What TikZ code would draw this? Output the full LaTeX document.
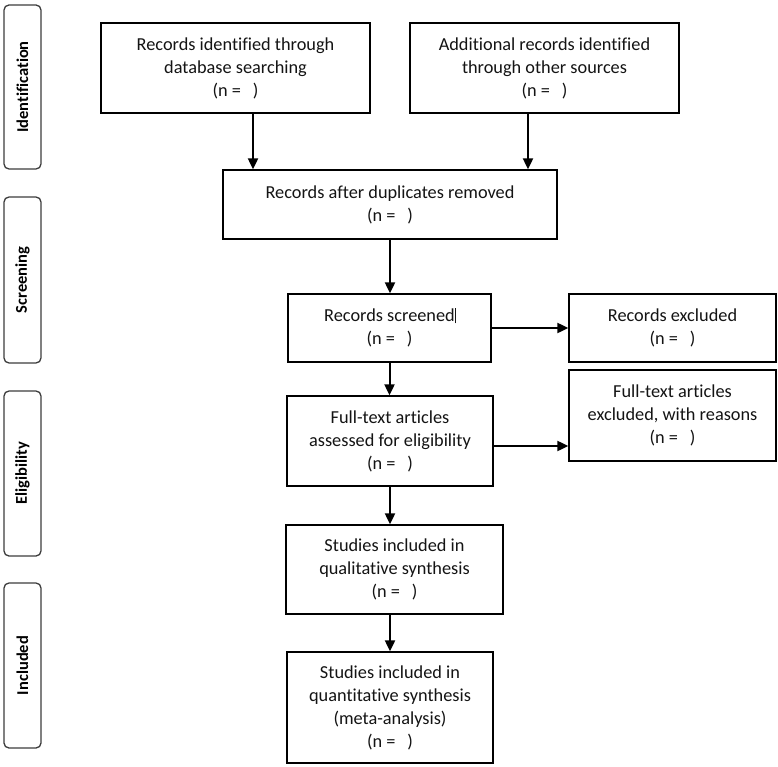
\documentclass[tikz,border=0pt]{standalone}
\usepackage{fontspec}
\setmainfont{Carlito}[Ligatures={NoCommon,NoDiscretionary,NoRare}]
\usetikzlibrary{arrows.meta}
\definecolor{txt}{RGB}{20,20,20}
\definecolor{side}{RGB}{60,60,60}
\tikzset{
  box/.style={draw=black, line width=1.3pt, fill=white, inner sep=0pt, align=center,
    text=txt, font=\fontsize{18.3}{23}\selectfont},
  sidebox/.style={draw=side, line width=1.3pt, rounded corners=5pt, inner sep=0pt,
    minimum width=37pt, text=black, font=\fontsize{16.5}{20}\selectfont\bfseries},
  sidetext/.style={rotate=90, font=\fontsize{16.5}{20}\selectfont\bfseries},
  arr/.style={line width=2pt, black, -{Triangle[length=11pt,width=10pt]}}
}
\newcommand{\nn}{(n =\hspace{0.65em})}
\begin{document}
\begin{tikzpicture}[x=1pt,y=-1pt]
\useasboundingbox (0,0) rectangle (778,767);
% side phase boxes
\node[sidebox, minimum height=164pt] (id) at (22.5,87) {};
\node[sidetext] (idt) at (id.center) {Identification};
\node[sidebox, minimum height=166pt] (sc) at (22.5,280) {};
\node[sidetext] (sct) at (sc.center) {Screening};
\node[sidebox, minimum height=165pt] (el) at (22.5,473.5) {};
\node[sidetext] (elt) at (el.center) {Eligibility};
\node[sidebox, minimum height=165pt] (in) at (22.5,665.5) {};
\node[sidetext] (int) at (in.center) {Included};
% main boxes
\node[box, minimum width=269pt, minimum height=90pt] (A) at (235.5,68)
  {Records identified through\\database searching\\\nn};
\node[box, minimum width=269pt, minimum height=90pt] (B) at (544.5,68)
  {Additional records identified\\through other sources\\\nn};
\node[box, minimum width=334pt, minimum height=69pt] (C) at (390,204.5)
  {Records after duplicates removed\\\nn};
\node[box, minimum width=203pt, minimum height=68pt] (S) at (389.5,328)
  {Records screened\rlap{\rule[-1.5pt]{0.9pt}{15pt}}\\\nn};
\node[box, minimum width=207pt, minimum height=68pt] (RE) at (672.5,328)
  {Records excluded\\\nn};
\node[box, minimum width=206pt, minimum height=90pt] (FT) at (390,441)
  {Full-text articles\\assessed for eligibility\\\nn};
\node[box, minimum width=207pt, minimum height=91pt] (FTE) at (672.5,415.5)
  {Full-text articles\\excluded, with reasons\\\nn};
\node[box, minimum width=217pt, minimum height=89pt] (Q1) at (394.5,569.5)
  {Studies included in\\qualitative synthesis\\\nn};
\node[box, minimum width=206pt, minimum height=111pt] (Q2) at (390,707.5)
  {Studies included in\\quantitative synthesis\\(meta-analysis)\\\nn};
% connectors
\coordinate (a1) at ([xshift=17.5pt]A.south);
\coordinate (b1) at ([xshift=-16.5pt]B.south);
\draw[arr] (a1) -- (a1 |- C.north);
\draw[arr] (b1) -- (b1 |- C.north);
\draw[arr] (C.south) -- (C.south |- S.north);
\draw[arr] (S.east) -- (S.east -| RE.west);
\draw[arr] (S.south) -- (S.south |- FT.north);
\coordinate (f1) at ([yshift=-5pt]FT.east);
\draw[arr] (f1) -- (f1 -| FTE.west);
\draw[arr] (FT.south) -- (FT.south |- Q1.north);
\draw[arr] (Q2.north |- Q1.south) -- (Q2.north);
\end{tikzpicture}
\end{document}
